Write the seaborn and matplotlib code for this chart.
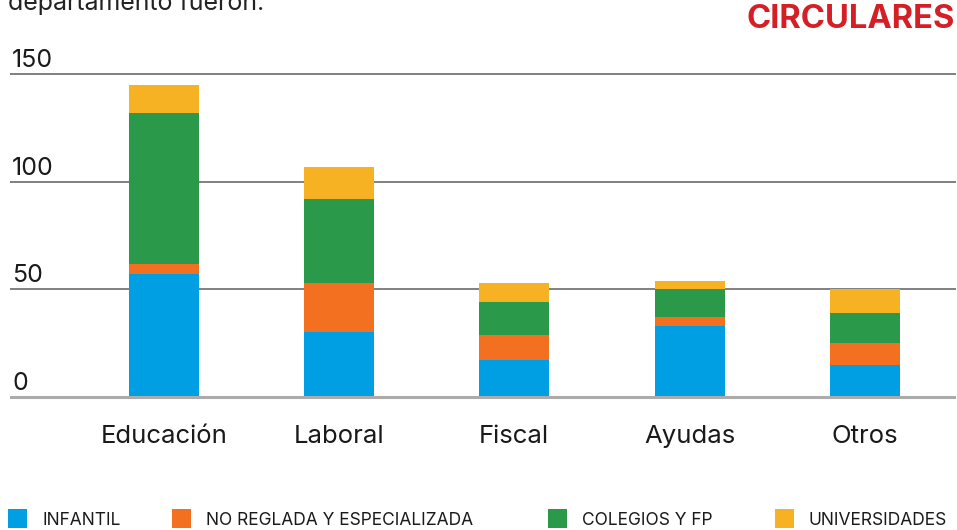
import numpy as np
import pandas as pd
import matplotlib
matplotlib.use("Agg")
import matplotlib.pyplot as plt
import matplotlib.transforms as mtransforms
from matplotlib.patches import Rectangle
import seaborn as sns

# --- Données ---
departamentos = ["Educación", "Laboral", "Fiscal", "Ayudas", "Otros"]
infantil = [57, 30, 17, 33, 15]
no_reglada = [5, 23, 12, 4, 10]
colegios_fp = [70, 39, 15, 13, 14]
universidades = [13, 15, 9, 4, 11]

series_names = ["INFANTIL", "NO REGLADA Y ESPECIALIZADA", "COLEGIOS Y FP", "UNIVERSIDADES"]
series_colors = ["#009FE3", "#F37021", "#2A9A4A", "#F6B223"]
y_ticks = [0, 50, 100, 150]

# tableau long pour seaborn
df = pd.DataFrame({
    "departamento": departamentos,
    "INFANTIL": infantil,
    "NO REGLADA Y ESPECIALIZADA": no_reglada,
    "COLEGIOS Y FP": colegios_fp,
    "UNIVERSIDADES": universidades,
})
cum = df[series_names].cumsum(axis=1)

sns.set_theme(style="white")
plt.rcParams["font.family"] = ["Inter", "DejaVu Sans"]

W, H = 957, 530
fig = plt.figure(figsize=(W / 100, H / 100), dpi=100)
ax_bottom_px, ax_top_px = 401.3, 70.0
ax = fig.add_axes([10 / W, 1 - ax_bottom_px / H, (956 - 10) / W, (ax_bottom_px - ax_top_px) / H])

# barres empilées : on dessine les cumuls du plus haut au plus bas
for name, color in zip(series_names[::-1], series_colors[::-1]):
    sns.barplot(x=df["departamento"], y=cum[name], color=color, width=0.4,
                saturation=1, linewidth=0, edgecolor="none", ax=ax, zorder=2)

ax.set_xlim(-0.877, 4.52)
ax.set_ylim(-2, 152)
ax.set_xlabel("")
ax.set_ylabel("")
sns.despine(ax=ax, left=True, bottom=True, top=True, right=True)

# grille horizontale
ax.set_yticks(y_ticks)
ax.set_yticklabels([])
ax.tick_params(axis="y", length=0)
for v in y_ticks[1:]:
    ax.axhline(v, color="#6b6b6b", lw=1.2, zorder=1)
ax.axhline(0, color="#ababab", lw=2.2, zorder=3)

# étiquettes de l'axe y au-dessus des lignes
trans = mtransforms.blended_transform_factory(ax.transAxes, ax.transData)
for v in y_ticks:
    ax.annotate(str(v), xy=(0, v), xycoords=trans, xytext=(1.5, 5),
                textcoords="offset points", ha="left", va="baseline",
                fontsize=18, color="#1a1a1a")

ax.tick_params(axis="x", length=0, pad=17, labelsize=18.5, labelcolor="#1a1a1a")

# titre partiel et mot-clé
fig.text(8 / W, 1 - 10 / H, "departamento fueron.", fontsize=18, color="#222222",
         ha="left", va="baseline")
fig.text(955 / W, 1 - 20 / H, "CIRCULARES", fontsize=23.5, fontweight="bold",
         color="#D41F26", ha="right", va="center")

# légende en bas
leg_x = [8, 172, 548, 775]
for name, color, x in zip(series_names, series_colors, leg_x):
    fig.add_artist(Rectangle((x / W, 1 - 528 / H), 19 / W, 19 / H,
                             transform=fig.transFigure, color=color, lw=0))
    fig.text((x + 34) / W, 1 - 525 / H, name, fontsize=12.5, color="#1a1a1a",
             ha="left", va="baseline")

fig.savefig("out.png", dpi=100)
